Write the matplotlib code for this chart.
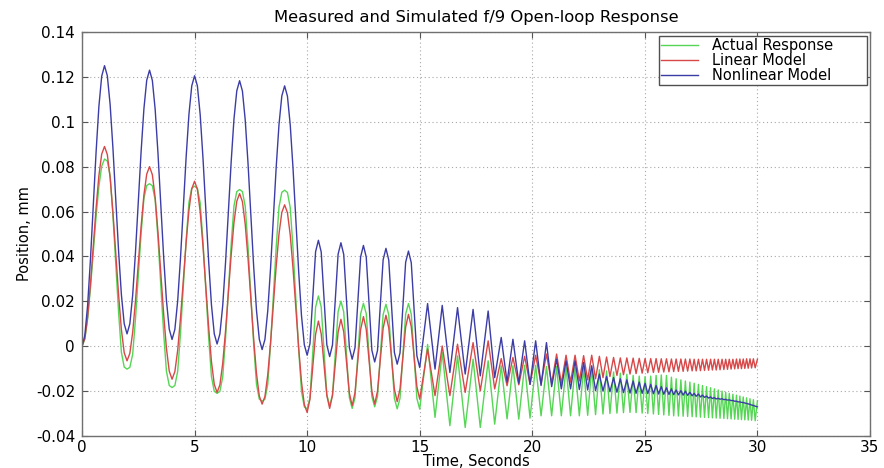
import numpy as np
import matplotlib
matplotlib.use('Agg')
import matplotlib.pyplot as plt

# ---------------- data ----------------
title = "Measured and Simulated f/9 Open-loop Response"
xlabel = "Time, Seconds"
ylabel = "Position, mm"
labels = ["Actual Response", "Linear Model", "Nonlinear Model"]

x_ticks = [0, 5, 10, 15, 20, 25, 30, 35]
y_ticks = [-0.04, -0.02, 0, 0.02, 0.04, 0.06, 0.08, 0.1, 0.12, 0.14]
y_tick_labels = ["-0.04", "-0.02", "0", "0.02", "0.04", "0.06", "0.08", "0.1", "0.12", "0.14"]

# slower part, 0 - 15 s, read every eighth of a second
t_a = [0, 0.125, 0.25, 0.375, 0.5, 0.625, 0.75, 0.875,
       1, 1.125, 1.25, 1.375, 1.5, 1.625, 1.75, 1.875,
       2, 2.125, 2.25, 2.375, 2.5, 2.625, 2.75, 2.875,
       3, 3.125, 3.25, 3.375, 3.5, 3.625, 3.75, 3.875,
       4, 4.125, 4.25, 4.375, 4.5, 4.625, 4.75, 4.875,
       5, 5.125, 5.25, 5.375, 5.5, 5.625, 5.75, 5.875,
       6, 6.125, 6.25, 6.375, 6.5, 6.625, 6.75, 6.875,
       7, 7.125, 7.25, 7.375, 7.5, 7.625, 7.75, 7.875,
       8, 8.125, 8.25, 8.375, 8.5, 8.625, 8.75, 8.875,
       9, 9.125, 9.25, 9.375, 9.5, 9.625, 9.75, 9.875,
       10, 10.125, 10.25, 10.375, 10.5, 10.625, 10.75, 10.875,
       11, 11.125, 11.25, 11.375, 11.5, 11.625, 11.75, 11.875,
       12, 12.125, 12.25, 12.375, 12.5, 12.625, 12.75, 12.875,
       13, 13.125, 13.25, 13.375, 13.5, 13.625, 13.75, 13.875,
       14, 14.125, 14.25, 14.375, 14.5, 14.625, 14.75, 14.875,
       15]

actual_a = [0, 0.0032, 0.0122, 0.0258, 0.0417, 0.0576, 0.0712, 0.0802,
            0.0834, 0.0825, 0.0759, 0.0581, 0.0366, 0.0151, -0.0027, -0.0093,
            -0.0102, -0.0094, -0.0036, 0.0121, 0.0311, 0.0501, 0.0658, 0.0716,
            0.0724, 0.0715, 0.0651, 0.0479, 0.027, 0.0061, -0.0111, -0.0175,
            -0.0184, -0.0175, -0.0112, 0.0058, 0.0265, 0.0471, 0.0641, 0.0704,
            0.0713, 0.0704, 0.0639, 0.0464, 0.0252, 0.0039, -0.0136, -0.0201,
            -0.021, -0.0201, -0.0137, 0.0035, 0.0244, 0.0453, 0.0625, 0.0689,
            0.0698, 0.0689, 0.0623, 0.0443, 0.0227, 0.001, -0.017, -0.0236,
            -0.0245, -0.0236, -0.017, 0.0009, 0.0225, 0.0441, 0.062, 0.0686,
            0.0695, 0.0685, 0.0617, 0.0432, 0.0208, -0.0017, -0.0202, -0.027,
            -0.028, -0.023, -0.0028, 0.0174, 0.0224, 0.0175, -0.0021, -0.0216,
            -0.0265, -0.0218, -0.0032, 0.0154, 0.0201, 0.0153, -0.0038, -0.0229,
            -0.0277, -0.023, -0.0043, 0.0144, 0.0191, 0.0145, -0.004, -0.0224,
            -0.027, -0.0224, -0.0042, 0.0141, 0.0187, 0.014, -0.0046, -0.0232,
            -0.0279, -0.0232, -0.0045, 0.0143, 0.019, 0.0143, -0.0045, -0.0233,
            -0.028]
linear_a = [0, 0.0034, 0.013, 0.0275, 0.0445, 0.0615, 0.076, 0.0856,
            0.089, 0.0854, 0.0751, 0.0595, 0.0413, 0.023, 0.0074, -0.0029,
            -0.0065, -0.0032, 0.0061, 0.0202, 0.0368, 0.0533, 0.0674, 0.0767,
            0.080, 0.0764, 0.0662, 0.0507, 0.0327, 0.0146, -0.0009, -0.0111,
            -0.0147, -0.0113, -0.0018, 0.0126, 0.0294, 0.0462, 0.0606, 0.0701,
            0.0735, 0.0699, 0.0598, 0.0444, 0.0265, 0.0085, -0.0069, -0.017,
            -0.0206, -0.0172, -0.0077, 0.0068, 0.0237, 0.0406, 0.0551, 0.0646,
            0.068, 0.0644, 0.0543, 0.039, 0.0211, 0.0032, -0.0121, -0.0222,
            -0.0258, -0.0224, -0.0128, 0.0016, 0.0186, 0.0356, 0.05, 0.0596,
            0.063, 0.0595, 0.0495, 0.0344, 0.0168, -0.0009, -0.016, -0.026,
            -0.0295, -0.0236, -0.0092, 0.0053, 0.0112, 0.0055, -0.0083, -0.022,
            -0.0277, -0.0219, -0.0079, 0.0062, 0.012, 0.0064, -0.0073, -0.0209,
            -0.0265, -0.0207, -0.0067, 0.0074, 0.0132, 0.0075, -0.0063, -0.0201,
            -0.0258, -0.02, -0.006, 0.008, 0.0138, 0.0082, -0.0055, -0.0191,
            -0.0247, -0.019, -0.0053, 0.0085, 0.0142, 0.0087, -0.0047, -0.018,
            -0.0236]
nonlinear_a = [0, 0.0048, 0.0183, 0.0386, 0.0625, 0.0864, 0.1068, 0.1203,
               0.125, 0.1205, 0.1076, 0.0881, 0.0653, 0.0424, 0.0229, 0.0100,
               0.0055, 0.0100, 0.0227, 0.0418, 0.0643, 0.0867, 0.1058, 0.1185,
               0.123, 0.1184, 0.1055, 0.0859, 0.063, 0.0401, 0.0205, 0.0076,
               0.003, 0.0075, 0.0202, 0.0393, 0.0618, 0.0842, 0.1033, 0.116,
               0.1205, 0.116, 0.1031, 0.0836, 0.0608, 0.0379, 0.0184, 0.0055,
               0.001, 0.0055, 0.0181, 0.0372, 0.0597, 0.0821, 0.1012, 0.1138,
               0.1183, 0.1137, 0.1008, 0.0813, 0.0584, 0.0355, 0.016, 0.0031,
               -0.0015, 0.003, 0.0157, 0.0348, 0.0573, 0.0797, 0.0988, 0.1115,
               0.116, 0.1114, 0.0985, 0.0789, 0.056, 0.0331, 0.0135, 0.0006,
               -0.004, 0.0011, 0.0216, 0.0421, 0.0472, 0.042, 0.0213, 0.0006,
               -0.0046, 0.0005, 0.0208, 0.041, 0.0461, 0.0409, 0.0202, -0.0006,
               -0.0058, -0.0007, 0.0196, 0.0398, 0.0449, 0.0397, 0.019, -0.0018,
               -0.007, -0.0019, 0.0183, 0.0385, 0.0436, 0.0384, 0.0178, -0.0028,
               -0.008, -0.003, 0.0172, 0.0374, 0.0424, 0.0372, 0.0165, -0.0043,
               -0.0095]

# faster part, 15 - 30 s: times of the peaks and troughs
t_peak = [15.35, 16.0, 16.68, 17.37, 18.04,
          18.62, 19.14, 19.66, 20.15, 20.63,
          21.08, 21.5, 21.9, 22.28, 22.64, 22.98, 23.3, 23.61, 23.91, 24.2,
          24.48, 24.75, 25.01, 25.26, 25.5, 25.73, 25.96, 26.18, 26.39, 26.6,
          26.8, 27.0, 27.19, 27.38, 27.56, 27.74, 27.92, 28.09, 28.26, 28.43,
          28.59, 28.75, 28.91, 29.07, 29.22, 29.37, 29.52, 29.67, 29.82, 30.0]
t_trough = [15.68, 16.34, 17.02, 17.69, 18.33,
            18.88, 19.4, 19.9, 20.39, 20.86,
            21.29, 21.7, 22.09, 22.46, 22.81, 23.14, 23.45, 23.76, 24.05, 24.34,
            24.61, 24.88, 25.13, 25.38, 25.61, 25.84, 26.07, 26.28, 26.49, 26.7,
            26.9, 27.1, 27.28, 27.47, 27.65, 27.83, 28.0, 28.17, 28.34, 28.51,
            28.67, 28.83, 28.99, 29.14, 29.29, 29.44, 29.59, 29.74, 29.9]

actual_peak = [0.0008, -0.0028, -0.0043, -0.0058, -0.0065,
               -0.0087, -0.0087, -0.0085, -0.0085, -0.009,
               -0.009, -0.0093, -0.0095, -0.0098, -0.010, -0.0105, -0.011, -0.0115, -0.012, -0.0125,
               -0.013, -0.0133, -0.0135, -0.0133, -0.013, -0.0128, -0.013, -0.0138, -0.0145, -0.015,
               -0.0155, -0.016, -0.0165, -0.017, -0.0175, -0.018, -0.0185, -0.019, -0.0195, -0.020,
               -0.0205, -0.021, -0.0214, -0.0218, -0.0222, -0.0226, -0.023, -0.0234, -0.0238, -0.0243]
actual_trough = [-0.0317, -0.0354, -0.0362, -0.0362, -0.0347,
                 -0.0324, -0.0325, -0.032, -0.031, -0.031,
                 -0.031, -0.031, -0.031, -0.0308, -0.0305, -0.0302, -0.030, -0.0298, -0.0296, -0.0295,
                 -0.0296, -0.0298, -0.030, -0.0302, -0.0304, -0.0306, -0.0308, -0.031, -0.0311, -0.0312,
                 -0.0313, -0.0314, -0.0315, -0.0316, -0.0317, -0.0318, -0.0319, -0.032, -0.0321, -0.0322,
                 -0.0323, -0.0324, -0.0325, -0.0326, -0.0327, -0.0328, -0.0329, -0.033, -0.0332]

linear_peak = [-0.0013, 0.0001, 0.0009, 0.0016, 0.0024,
               -0.0055, -0.005, -0.0045, -0.004, -0.0035,
               -0.0035, -0.004, -0.004, -0.0042, -0.004, -0.0045, -0.0048, -0.005, -0.0052, -0.0052,
               -0.0053, -0.0054, -0.0055, -0.0055, -0.0055, -0.0056, -0.0056, -0.0057, -0.0057, -0.0057,
               -0.0057, -0.0057, -0.0058, -0.0058, -0.0058, -0.0058, -0.0058, -0.0058, -0.0058, -0.0058,
               -0.0058, -0.0058, -0.0058, -0.0057, -0.0057, -0.0057, -0.0056, -0.0056, -0.0056, -0.0058]
linear_trough = [-0.022, -0.022, -0.0206, -0.0199, -0.019,
                 -0.0176, -0.0172, -0.017, -0.0168, -0.0165,
                 -0.0165, -0.016, -0.0155, -0.015, -0.0145, -0.014, -0.0135, -0.013, -0.0127, -0.0124,
                 -0.0122, -0.012, -0.0118, -0.0117, -0.0116, -0.0115, -0.0114, -0.0113, -0.0112, -0.0112,
                 -0.0111, -0.011, -0.011, -0.0109, -0.0108, -0.0107, -0.0106, -0.0106, -0.0105, -0.0104,
                 -0.0103, -0.0102, -0.0101, -0.010, -0.010, -0.0099, -0.0098, -0.0097, -0.0096]

nonlinear_peak = [0.019, 0.0182, 0.0172, 0.0164, 0.0157,
                  0.0039, 0.0031, 0.0024, 0.0024, 0.0016,
                  -0.0058, -0.0065, -0.0065, -0.0072, -0.0087, -0.0124, -0.0135, -0.014, -0.0145, -0.015,
                  -0.0155, -0.016, -0.0165, -0.017, -0.0175, -0.018, -0.0185, -0.019, -0.0195, -0.0198,
                  -0.020, -0.0205, -0.021, -0.0213, -0.0218, -0.0222, -0.0226, -0.0229, -0.0232, -0.0234,
                  -0.0237, -0.0239, -0.0242, -0.0245, -0.0248, -0.0251, -0.0255, -0.0259, -0.0264, -0.027]
nonlinear_trough = [-0.0102, -0.0117, -0.0124, -0.0132, -0.014,
                    -0.016, -0.0165, -0.017, -0.0175, -0.018,
                    -0.019, -0.019, -0.0193, -0.0195, -0.0198, -0.020, -0.0203, -0.0205, -0.0207, -0.0209,
                    -0.021, -0.021, -0.0211, -0.0212, -0.0213, -0.0214, -0.0215, -0.0216, -0.0217, -0.0218,
                    -0.0219, -0.0221, -0.0223, -0.0226, -0.0228, -0.0231, -0.0233, -0.0235, -0.0236, -0.0238,
                    -0.024, -0.0242, -0.0245, -0.0248, -0.025, -0.0253, -0.0257, -0.0262, -0.0267]

colors = ["#55d655", "#d84848", "#3c3ca6"]


def assemble(slow, peaks, troughs):
    t = np.concatenate([np.asarray(t_a, float), np.asarray(t_peak, float), np.asarray(t_trough, float)])
    y = np.concatenate([np.asarray(slow, float), np.asarray(peaks, float), np.asarray(troughs, float)])
    order = np.argsort(t, kind="stable")
    return t[order], y[order]


series = [assemble(actual_a, actual_peak, actual_trough),
          assemble(linear_a, linear_peak, linear_trough),
          assemble(nonlinear_a, nonlinear_peak, nonlinear_trough)]

# ---------------- figure ----------------
plt.rcParams['font.family'] = ['DejaVu Sans']
W, H = 884, 468
fig = plt.figure(figsize=(W / 100, H / 100), dpi=100)
ax_l, ax_r, ax_t, ax_b = 82, 870, 32, 436
aw, ah = ax_r - ax_l, ax_b - ax_t
ax = fig.add_axes([ax_l / W, 1 - ax_b / H, aw / W, ah / H])

for (t, y), c, lab in zip(series, colors, labels):
    ax.plot(t, y, color=c, lw=1.0, label=lab)

ax.set_xlim(0, 35)
ax.set_ylim(-0.04, 0.14)
ax.set_xticks(x_ticks)
ax.set_xticklabels([str(v) for v in x_ticks])
ax.set_yticks(y_ticks)
ax.set_yticklabels(y_tick_labels)
ax.grid(True, color="#a8a8a8", linestyle=(0, (1, 2.5)), linewidth=0.8)
ax.tick_params(direction="in", top=True, right=True, length=4, width=0.8,
               color="#555555", labelsize=11)
ax.tick_params(axis="x", pad=3)
ax.tick_params(axis="y", pad=5)
for s in ax.spines.values():
    s.set_color("#707070")
    s.set_linewidth(1.0)

ax.set_title(title, fontsize=11.8, pad=7)
ax.set_xlabel(xlabel, fontsize=10.5, labelpad=-1)
ax.set_ylabel(ylabel, fontsize=10.5, labelpad=3)

# legend box: x 659..867 px, y 36..80 px
lx0 = (659 - ax_l) / aw
lw = (867 - 659) / aw
ly1 = 1 - (36 - ax_t) / ah
lh = (80 - 36) / ah
leg = ax.legend(loc="upper left", bbox_to_anchor=(lx0, ly1 - lh, lw, lh), mode="expand",
                fontsize=10.5, frameon=True, fancybox=False, framealpha=1,
                edgecolor="#505050", borderaxespad=0, borderpad=0.15,
                handlelength=2.5, handletextpad=1.0, labelspacing=0.0)
leg.get_frame().set_linewidth(1.0)

fig.savefig("out.png", dpi=100)
